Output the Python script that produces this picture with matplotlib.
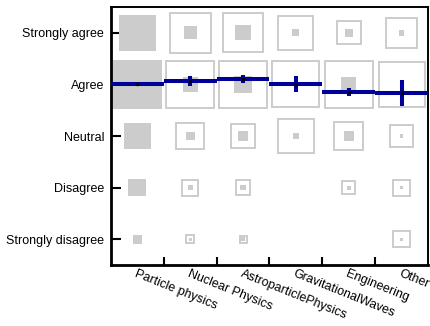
import numpy as np
import matplotlib.pyplot as plt
from matplotlib.patches import Rectangle

plt.rcParams['font.family'] = ['Liberation Sans', 'DejaVu Sans']

# Categorias (eixo x) e respostas (eixo y, de baixo para cima)
categorias = ["Particle physics", "Nuclear Physics", "AstroparticlePhysics",
              "GravitationalWaves", "Engineering", "Other"]
respostas = ["Strongly disagree", "Disagree", "Neutral", "Agree", "Strongly agree"]

# Lado dos quadrados cheios (fração da célula), ordem: SD, D, N, A, SA
cheio_pp = [0.18, 0.34, 0.51, 0.95, 0.70]
cheio_nuc = [0.05, 0.09, 0.17, 0.29, 0.25]
cheio_astro = [0.08, 0.10, 0.19, 0.33, 0.29]
cheio_grav = [0.0, 0.0, 0.10, 0.08, 0.13]
cheio_eng = [0.0, 0.08, 0.19, 0.29, 0.16]
cheio_outro = [0.06, 0.06, 0.06, 0.07, 0.11]

# Lado dos quadrados vazados
vazio_pp = [0.0, 0.0, 0.0, 0.0, 0.0]
vazio_nuc = [0.15, 0.31, 0.52, 0.91, 0.77]
vazio_astro = [0.13, 0.28, 0.47, 0.91, 0.76]
vazio_grav = [0.0, 0.0, 0.67, 0.89, 0.66]
vazio_eng = [0.0, 0.25, 0.54, 0.91, 0.45]
vazio_outro = [0.31, 0.31, 0.43, 0.87, 0.58]

# Média e erro por categoria
media = [4.00, 4.06, 4.11, 4.01, 3.86, 3.83]
erro = [0.02, 0.10, 0.08, 0.16, 0.08, 0.25]

cheios = [cheio_pp, cheio_nuc, cheio_astro, cheio_grav, cheio_eng, cheio_outro]
vazios = [vazio_pp, vazio_nuc, vazio_astro, vazio_grav, vazio_eng, vazio_outro]

cinza = "#cccccc"
azul = "#000099"

fig = plt.figure(figsize=(4.31, 3.26), dpi=100)
ax = fig.add_axes([0.2575, 0.187, 0.7355, 0.7915])

x = np.arange(1, len(categorias) + 1)
y = np.arange(1, len(respostas) + 1)

for i, xi in enumerate(x):
    for j, yj in enumerate(y):
        s = vazios[i][j]
        if s > 0:
            ax.add_patch(Rectangle((xi - s / 2, yj - s / 2), s, s, facecolor="none",
                                   edgecolor=cinza, linewidth=1.4, zorder=1))
        s = cheios[i][j]
        if s > 0:
            ax.add_patch(Rectangle((xi - s / 2, yj - s / 2), s, s, facecolor=cinza,
                                   edgecolor="none", zorder=2))

# Linha da média (segmentos por categoria) com barras de erro
ax.hlines(media, x - 0.5, x + 0.5, color=azul, linewidth=2.9, zorder=3)
ax.errorbar(x, media, yerr=erro, fmt="none", ecolor=azul, elinewidth=2.9,
            capsize=0, zorder=4)
ax.plot(x, media, "o", color="black", markersize=1.5, zorder=5)

ax.set_xlim(0.5, len(categorias) + 0.5)
ax.set_ylim(0.5, len(respostas) + 0.5)

ax.set_yticks(y)
ax.set_yticklabels(respostas, fontsize=9)
ax.set_xticks(x)
ax.set_xticklabels(categorias, fontsize=9, rotation=-22, ha="left", va="top",
                   rotation_mode="anchor")
ax.set_xticks(x[:-1] + 0.5, minor=True)

ax.tick_params(axis="y", direction="in", length=7, width=1.5, pad=5)
ax.tick_params(axis="x", which="major", length=0, pad=2)
ax.tick_params(axis="x", which="minor", direction="in", length=6, width=1.5)
ax.tick_params(axis="y", which="minor", left=False)

for lado in ["left", "bottom"]:
    ax.spines[lado].set_linewidth(2.0)
for lado in ["top", "right"]:
    ax.spines[lado].set_linewidth(1.4)

fig.savefig("out.png", dpi=100)
